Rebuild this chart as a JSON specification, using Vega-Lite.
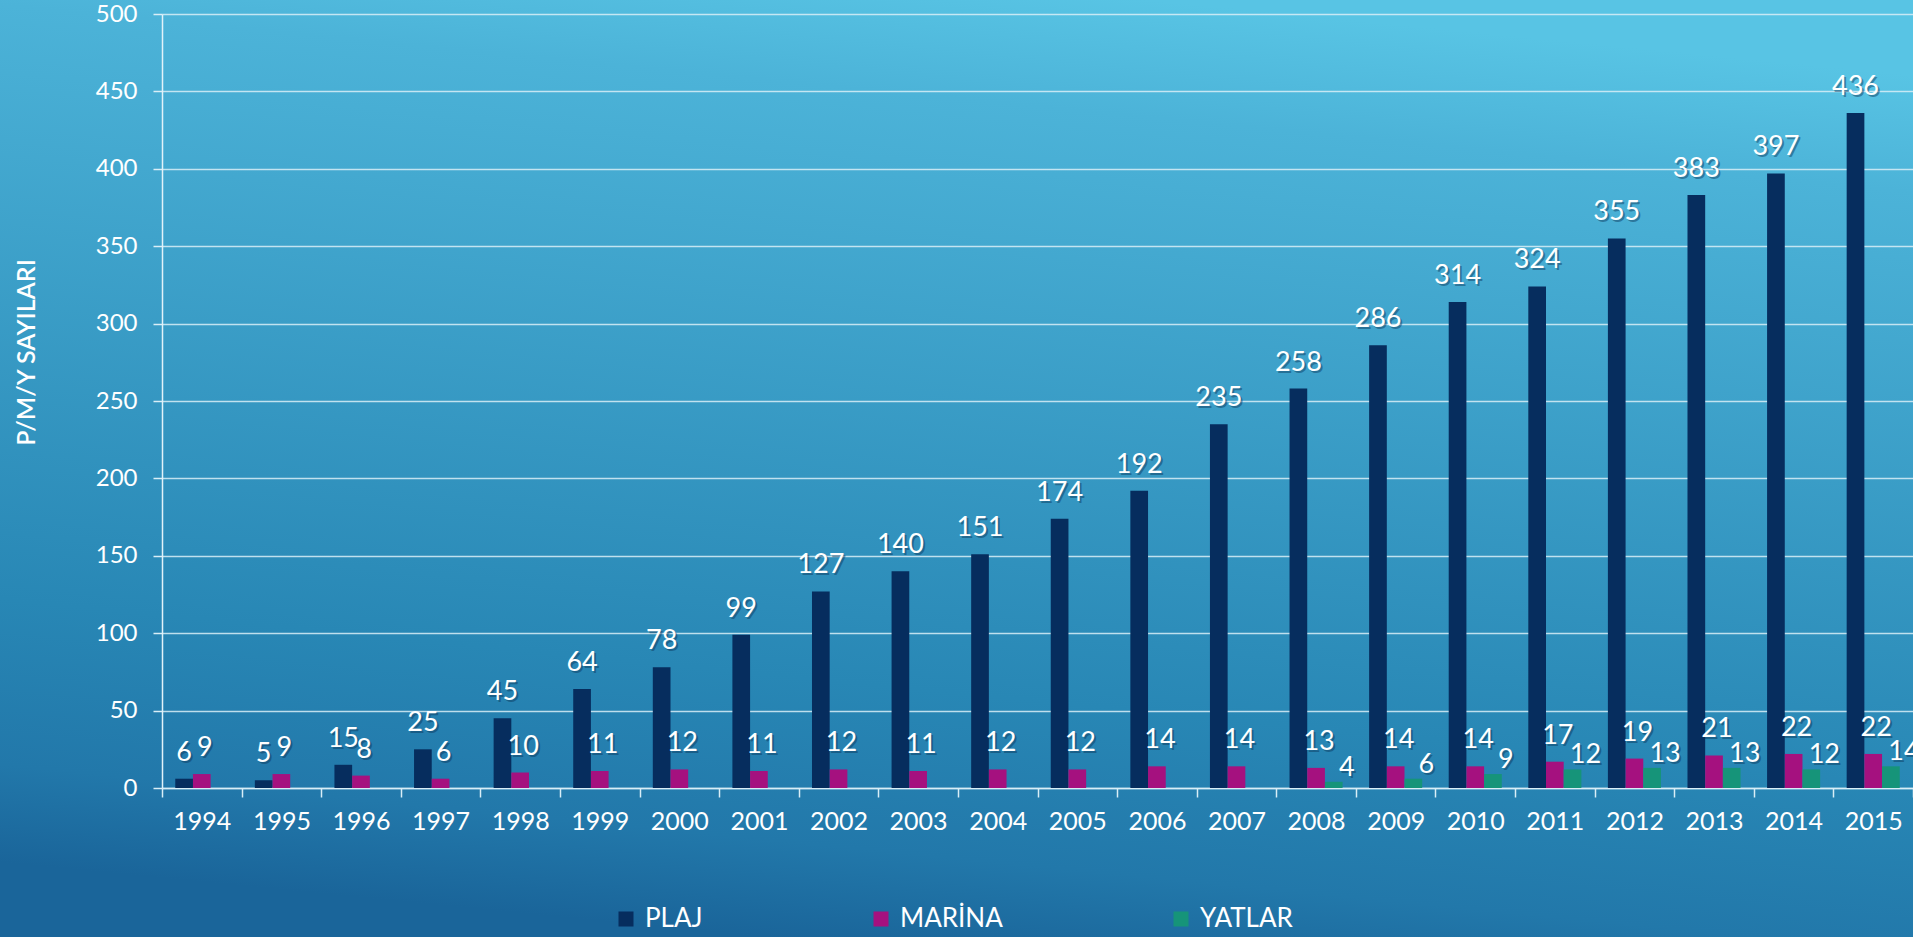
{
  "$schema": "https://vega.github.io/schema/vega-lite/v6.json",
  "width": 1913,
  "height": 937,
  "autosize": {"type": "none"},
  "padding": 0,
  "background": "#2A80B2",
  "view": {
    "stroke": null,
    "fill": {
      "gradient": "linear",
      "x1": 0.6, "y1": 0, "x2": 0.4, "y2": 1,
      "stops": [
        {"offset": 0, "color": "#58C4E4"},
        {"offset": 0.12, "color": "#4CB3D8"},
        {"offset": 0.73, "color": "#2887B5"},
        {"offset": 0.9, "color": "#2278AA"},
        {"offset": 1, "color": "#1A659A"}
      ]
    }
  },
  "config": {
    "font": "Lato",
    "text": {"font": "Lato"}
  },
  "data": {
    "values": [
      {"year": "1994", "series": "PLAJ", "value": 6},
      {"year": "1994", "series": "MARİNA", "value": 9},
      {"year": "1995", "series": "PLAJ", "value": 5},
      {"year": "1995", "series": "MARİNA", "value": 9},
      {"year": "1996", "series": "PLAJ", "value": 15},
      {"year": "1996", "series": "MARİNA", "value": 8},
      {"year": "1997", "series": "PLAJ", "value": 25},
      {"year": "1997", "series": "MARİNA", "value": 6},
      {"year": "1998", "series": "PLAJ", "value": 45},
      {"year": "1998", "series": "MARİNA", "value": 10},
      {"year": "1999", "series": "PLAJ", "value": 64},
      {"year": "1999", "series": "MARİNA", "value": 11},
      {"year": "2000", "series": "PLAJ", "value": 78},
      {"year": "2000", "series": "MARİNA", "value": 12},
      {"year": "2001", "series": "PLAJ", "value": 99},
      {"year": "2001", "series": "MARİNA", "value": 11},
      {"year": "2002", "series": "PLAJ", "value": 127},
      {"year": "2002", "series": "MARİNA", "value": 12},
      {"year": "2003", "series": "PLAJ", "value": 140},
      {"year": "2003", "series": "MARİNA", "value": 11},
      {"year": "2004", "series": "PLAJ", "value": 151},
      {"year": "2004", "series": "MARİNA", "value": 12},
      {"year": "2005", "series": "PLAJ", "value": 174},
      {"year": "2005", "series": "MARİNA", "value": 12},
      {"year": "2006", "series": "PLAJ", "value": 192},
      {"year": "2006", "series": "MARİNA", "value": 14},
      {"year": "2007", "series": "PLAJ", "value": 235},
      {"year": "2007", "series": "MARİNA", "value": 14},
      {"year": "2008", "series": "PLAJ", "value": 258},
      {"year": "2008", "series": "MARİNA", "value": 13},
      {"year": "2008", "series": "YATLAR", "value": 4},
      {"year": "2009", "series": "PLAJ", "value": 286},
      {"year": "2009", "series": "MARİNA", "value": 14},
      {"year": "2009", "series": "YATLAR", "value": 6},
      {"year": "2010", "series": "PLAJ", "value": 314},
      {"year": "2010", "series": "MARİNA", "value": 14},
      {"year": "2010", "series": "YATLAR", "value": 9},
      {"year": "2011", "series": "PLAJ", "value": 324},
      {"year": "2011", "series": "MARİNA", "value": 17},
      {"year": "2011", "series": "YATLAR", "value": 12},
      {"year": "2012", "series": "PLAJ", "value": 355},
      {"year": "2012", "series": "MARİNA", "value": 19},
      {"year": "2012", "series": "YATLAR", "value": 13},
      {"year": "2013", "series": "PLAJ", "value": 383},
      {"year": "2013", "series": "MARİNA", "value": 21},
      {"year": "2013", "series": "YATLAR", "value": 13},
      {"year": "2014", "series": "PLAJ", "value": 397},
      {"year": "2014", "series": "MARİNA", "value": 22},
      {"year": "2014", "series": "YATLAR", "value": 12},
      {"year": "2015", "series": "PLAJ", "value": 436},
      {"year": "2015", "series": "MARİNA", "value": 22},
      {"year": "2015", "series": "YATLAR", "value": 14}
    ]
  },
  "encoding": {
    "x": {
      "field": "year",
      "type": "nominal",
      "sort": null,
      "scale": {"range": [162, 1913], "paddingInner": 0, "paddingOuter": 0},
      "axis": {
        "title": null,
        "orient": "bottom",
        "offset": -149,
        "labelAngle": 0,
        "tickBand": "extent",
        "labelColor": "white",
        "labelFont": "Lato",
        "labelFontWeight": 400,
        "labelFontSize": 25,
        "labelPadding": 12,
        "labelBaseline": "top",
        "tickColor": "#D9EEF7",
        "tickSize": 9,
        "tickWidth": 1.5,
        "domainColor": "#D9EEF7",
        "domainWidth": 1.5,
        "grid": false
      }
    },
    "xOffset": {
      "field": "series",
      "type": "nominal",
      "sort": ["PLAJ", "MARİNA", "YATLAR"],
      "scale": {"domain": ["PLAJ", "MARİNA", "YATLAR"], "paddingInner": 0, "paddingOuter": 0.75}
    },
    "y": {
      "field": "value",
      "type": "quantitative",
      "scale": {"domain": [0, 500], "range": [788, 14], "nice": false, "zero": true},
      "axis": {
        "orient": "left",
        "offset": -162,
        "values": [0, 50, 100, 150, 200, 250, 300, 350, 400, 450, 500],
        "grid": true,
        "gridColor": "#D9EEF7",
        "gridOpacity": 0.85,
        "gridWidth": 1.5,
        "domainColor": "#E2F2F9",
        "domainWidth": 1.5,
        "tickColor": "#D9EEF7",
        "tickSize": 9,
        "tickWidth": 1.5,
        "labelColor": "white",
        "labelFont": "Lato",
        "labelFontWeight": 400,
        "labelFontSize": 24,
        "labelPadding": 16,
        "title": "P/M/Y SAYILARI",
        "titleColor": "white",
        "titleFont": "Lato",
        "titleFontSize": 25,
        "titleFontWeight": 600,
        "titleAngle": -90,
        "titleX": -136,
        "titleY": 352,
        "titleAlign": "center",
        "titleBaseline": "middle"
      }
    }
  },
  "layer": [
    {
      "mark": {"type": "bar"},
      "encoding": {
        "color": {
          "field": "series",
          "type": "nominal",
          "sort": ["PLAJ", "MARİNA", "YATLAR"],
          "scale": {"domain": ["PLAJ", "MARİNA", "YATLAR"], "range": ["#062D5E", "#A5117F", "#169479"]},
          "legend": {
            "title": null,
            "orient": "none",
            "legendX": 613,
            "legendY": 906,
            "direction": "horizontal",
            "columnPadding": 165,
            "symbolType": "square",
            "symbolSize": 225,
            "symbolStrokeWidth": 0,
            "symbolOpacity": 1,
            "labelColor": "white",
            "labelFont": "Lato",
            "labelFontWeight": 400,
            "labelFontSize": 26,
            "labelOffset": 6,
            "labelLimit": 300
          }
        }
      }
    },
    {
      "transform": [{"filter": "datum.series === 'PLAJ'"}],
      "mark": {"type": "text", "dy": -24, "dx": 2, "baseline": "middle", "align": "center", "fontSize": 27, "fontWeight": 400, "color": "#0B3558", "opacity": 0.45},
      "encoding": {"text": {"field": "value", "type": "quantitative"}}
    },
    {
      "transform": [{"filter": "datum.series === 'MARİNA'"}],
      "mark": {"type": "text", "dy": -24, "dx": 5, "baseline": "middle", "align": "center", "fontSize": 27, "fontWeight": 400, "color": "#0B3558", "opacity": 0.45},
      "encoding": {"text": {"field": "value", "type": "quantitative"}}
    },
    {
      "transform": [{"filter": "datum.series === 'YATLAR'"}],
      "mark": {"type": "text", "dy": -12, "dx": 15, "baseline": "middle", "align": "center", "fontSize": 27, "fontWeight": 400, "color": "#0B3558", "opacity": 0.45},
      "encoding": {"text": {"field": "value", "type": "quantitative"}}
    },
    {
      "transform": [{"filter": "datum.series === 'PLAJ'"}],
      "mark": {"type": "text", "dy": -26, "baseline": "middle", "align": "center", "fontSize": 27, "fontWeight": 400, "color": "white"},
      "encoding": {"text": {"field": "value", "type": "quantitative"}}
    },
    {
      "transform": [{"filter": "datum.series === 'MARİNA'"}],
      "mark": {"type": "text", "dy": -26, "dx": 3, "baseline": "middle", "align": "center", "fontSize": 27, "fontWeight": 400, "color": "white"},
      "encoding": {"text": {"field": "value", "type": "quantitative"}}
    },
    {
      "transform": [{"filter": "datum.series === 'YATLAR'"}],
      "mark": {"type": "text", "dy": -14, "dx": 13, "baseline": "middle", "align": "center", "fontSize": 27, "fontWeight": 400, "color": "white"},
      "encoding": {"text": {"field": "value", "type": "quantitative"}}
    }
  ]
}
